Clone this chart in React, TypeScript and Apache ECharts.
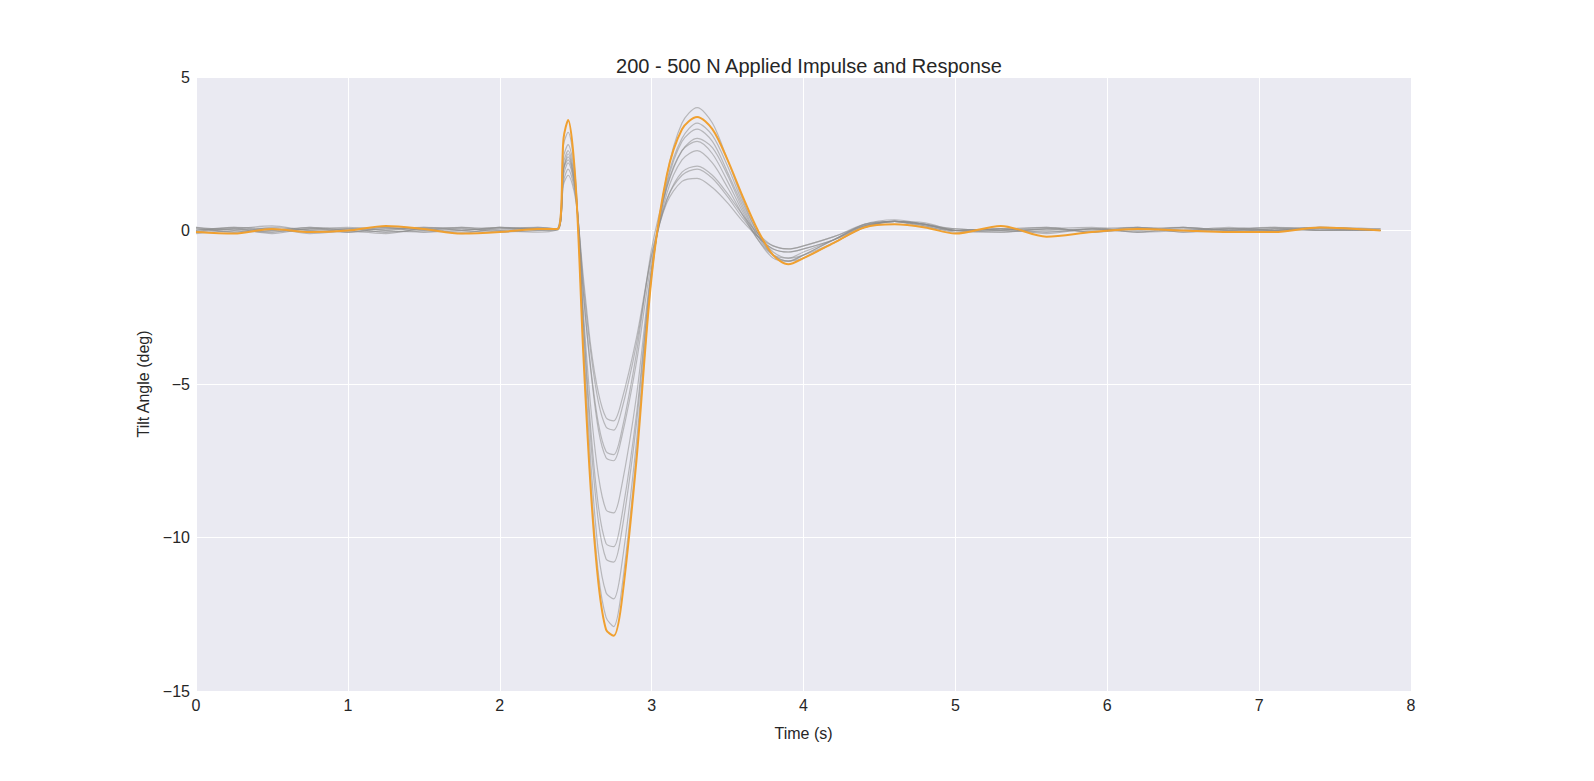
import * as echarts from "echarts";
import { useEffect, useRef } from "react";

const times = [0, 0.25, 0.5, 0.75, 1, 1.25, 1.5, 1.75, 2, 2.25, 2.38, 2.42, 2.45, 2.5, 2.55, 2.6, 2.65, 2.7, 2.75, 2.8, 2.9, 3.0, 3.1, 3.2, 3.3, 3.4, 3.5, 3.6, 3.7, 3.8, 3.9, 4.0, 4.2, 4.4, 4.6, 4.8, 5.0, 5.3, 5.6, 5.9, 6.2, 6.5, 6.8, 7.1, 7.4, 7.8];

const highlighted = [-0.05, -0.1, 0.05, -0.05, 0, 0.15, 0.05, -0.1, -0.05, 0.05, 0.05,
  3.0, 3.6, 1.5, -4.0, -8.5, -11.5, -13.0, -13.2, -12.2, -7.5, -1.5, 1.8, 3.3, 3.7, 3.3, 2.3, 1.1, 0.0, -0.8, -1.1, -0.9,
  -0.4, 0.1, 0.2, 0.1, -0.1, 0.15, -0.2, -0.05, 0.05, 0, -0.05, -0.05, 0.1, 0];

const grayA = [0.1, 0, -0.05, 0.05, 0.1, 0, -0.05, 0.05, 0, 0.1, 0.05,
  1.5, 1.8, 1.0, -1.5, -3.8, -5.3, -6.1, -6.2, -5.6, -3.5, -0.8, 0.9, 1.6, 1.7, 1.4, 0.9, 0.3, -0.2, -0.5, -0.6, -0.5,
  -0.2, 0.2, 0.3, 0.1, 0, 0.05, 0.1, -0.05, 0.05, 0.1, 0, 0.05, 0.1, 0];
const grayB = [0, 0.1, 0.05, -0.05, 0.05, 0.1, -0.05, 0, 0.1, 0.05, 0.05,
  1.8, 2.2, 1.2, -2.0, -4.6, -6.5, -7.4, -7.5, -6.8, -4.3, -1.0, 1.0, 1.8, 2.0, 1.7, 1.1, 0.4, -0.2, -0.6, -0.7, -0.6,
  -0.3, 0.1, 0.3, 0.2, 0, -0.05, 0.05, 0, 0.1, -0.05, 0.05, 0, 0.1, 0];
const grayC = [-0.05, 0.05, 0.15, 0, 0.05, -0.05, 0.05, 0.1, -0.05, 0, 0.05,
  2.0, 2.4, 1.3, -2.6, -5.8, -8.0, -9.1, -9.2, -8.4, -5.4, -1.2, 1.2, 2.3, 2.6, 2.2, 1.4, 0.5, -0.3, -0.8, -0.9, -0.7,
  -0.3, 0.2, 0.35, 0.2, 0, 0.05, -0.05, 0.05, 0, 0.1, -0.05, 0.05, 0, 0];
const grayD = [0.1, -0.05, 0, 0.1, -0.05, 0.05, 0.05, -0.1, 0.1, 0.05, 0,
  2.2, 2.6, 1.4, -2.9, -6.5, -9.0, -10.2, -10.3, -9.4, -6.0, -1.3, 1.4, 2.6, 2.9, 2.5, 1.6, 0.6, -0.3, -0.9, -1.0, -0.8,
  -0.3, 0.2, 0.3, 0.15, -0.05, 0, 0.1, -0.05, 0.05, 0, 0.1, 0, 0.05, 0];
const grayE = [-0.1, 0, 0.05, -0.1, 0, 0.05, 0.1, 0, -0.05, 0.05, 0.05,
  2.0, 2.3, 1.2, -3.0, -6.9, -9.5, -10.7, -10.8, -9.9, -6.3, -1.3, 1.5, 2.9, 3.3, 2.9, 1.9, 0.8, -0.2, -0.8, -1.0, -0.8,
  -0.3, 0.15, 0.3, 0.2, 0, 0.05, -0.1, 0.05, -0.05, 0.05, 0.05, 0, 0.1, 0.05];
const grayF = [0.05, -0.05, 0.1, 0, -0.05, 0, 0.1, 0.05, 0, -0.05, 0.05,
  2.4, 2.8, 1.5, -3.5, -7.6, -10.5, -11.8, -12.0, -11.0, -6.9, -1.4, 1.6, 3.0, 3.5, 3.1, 2.1, 0.9, -0.1, -0.7, -0.9, -0.8,
  -0.4, 0.1, 0.3, 0.25, 0, -0.05, 0.05, 0.1, -0.05, 0, 0.05, 0.05, 0, 0];
const grayG = [0, 0.05, -0.1, 0.05, 0.05, -0.05, 0, 0.1, 0.05, 0.05, 0.05,
  2.8, 3.2, 1.6, -3.8, -8.2, -11.2, -12.6, -12.9, -11.8, -7.3, -1.5, 1.8, 3.5, 4.0, 3.5, 2.3, 1.0, -0.1, -0.8, -1.0, -0.9,
  -0.4, 0.1, 0.3, 0.2, 0.05, 0, -0.05, 0.05, 0.1, -0.05, 0, 0.1, 0.05, 0];
const grayH = [0.05, 0.05, -0.05, 0.1, 0, -0.1, 0.05, 0, 0.1, 0, 0.05,
  1.6, 2.0, 1.1, -1.7, -4.0, -5.6, -6.4, -6.5, -5.9, -3.7, -0.8, 1.0, 1.9, 2.1, 1.8, 1.2, 0.5, -0.1, -0.5, -0.6, -0.5,
  -0.2, 0.15, 0.3, 0.15, 0.05, 0, 0.05, -0.05, 0.1, 0, 0.05, 0.1, 0, 0.05];
const grayI = [-0.05, 0.1, 0, 0.05, -0.05, 0.1, 0, -0.05, 0.05, 0.1, 0.05,
  2.0, 2.5, 1.3, -2.0, -4.5, -6.3, -7.2, -7.3, -6.6, -4.0, -0.6, 1.4, 2.6, 3.0, 2.7, 1.8, 0.7, -0.2, -0.6, -0.7, -0.6,
  -0.3, 0.15, 0.3, 0.2, 0, 0.05, 0, 0.05, -0.05, 0.1, 0, 0, 0.05, 0];

const grayRuns = [grayA, grayB, grayC, grayD, grayE, grayF, grayG, grayH, grayI];

const pair = (vals: number[]) => vals.map((v, i) => [times[i], v]);

const text = "#262626";

export default function App() {
  const chartRef = useRef<HTMLDivElement>(null);

  useEffect(() => {
    if (!chartRef.current) return;
    document.body.style.margin = "0";
    document.body.style.overflow = "hidden";
    document.documentElement.style.overflow = "hidden";
    const chart = echarts.init(chartRef.current, undefined, { renderer: "svg" });

    const lineBase = { type: "line" as const, showSymbol: false, smooth: 0.3, silent: true };

    const option: echarts.EChartsOption = {
      animation: false,
      backgroundColor: "#ffffff",
      textStyle: { fontFamily: "Liberation Sans, Arial, sans-serif" },
      title: {
        text: "200 - 500 N Applied Impulse and Response",
        left: 804,
        top: 51,
        textAlign: "center",
        textStyle: { fontSize: 20, fontWeight: "normal", color: text },
      },
      grid: {
        left: 196,
        right: 183,
        top: 77,
        bottom: 90,
        show: true,
        backgroundColor: "#eaeaf2",
        borderWidth: 0,
      },
      xAxis: {
        type: "value",
        min: 0,
        max: 8,
        interval: 1,
        name: "Time (s)",
        nameLocation: "middle",
        nameGap: 34,
        nameTextStyle: { fontSize: 16, color: text },
        axisLine: { show: false },
        axisTick: { show: false },
        axisLabel: { fontSize: 16, color: text, margin: 6 },
        splitLine: { lineStyle: { color: "#ffffff", width: 1 } },
      },
      yAxis: {
        type: "value",
        min: -15,
        max: 5,
        interval: 5,
        name: "Tilt Angle (deg)",
        nameLocation: "middle",
        nameGap: 42,
        nameTextStyle: { fontSize: 16, color: text },
        axisLine: { show: false },
        axisTick: { show: false },
        axisLabel: {
          fontSize: 16,
          color: text,
          margin: 6,
          formatter: (v: number) => String(v).replace("-", "\u2212"),
        },
        splitLine: { lineStyle: { color: "#ffffff", width: 1 } },
      },
      series: [
        ...grayRuns.map((run, i) => ({
          ...lineBase,
          name: `run${i + 1}`,
          data: pair(run),
          lineStyle: { color: "#8c8c8c", width: 1.2, opacity: 0.55 },
        })),
        {
          ...lineBase,
          name: "highlight",
          data: pair(highlighted),
          lineStyle: { color: "#f0a030", width: 2 },
        },
      ],
    };

    chart.setOption(option);
    return () => chart.dispose();
  }, []);

  return <div ref={chartRef} style={{ width: "1594px", height: "781px" }} />;
}
